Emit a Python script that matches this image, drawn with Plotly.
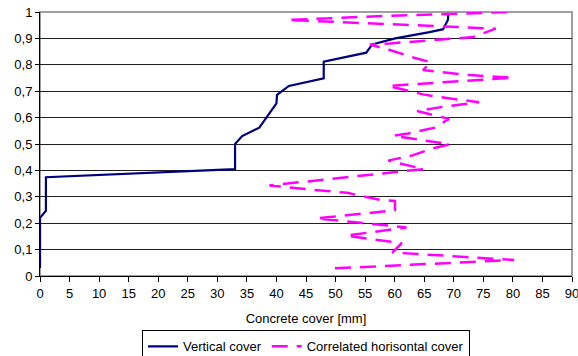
import plotly.graph_objects as go

# Vertical cover: cumulative fraction vs concrete cover
vertical_mm = [0, 0, 1, 1, 33, 33, 34.2, 37.1, 40, 40.1, 42.1, 48, 48,
               55.2, 56.2, 60.1, 65.9, 68.2, 69, 69.1]
vertical_frac = [0.03, 0.22, 0.247, 0.374, 0.405, 0.5, 0.53, 0.562, 0.654,
                 0.686, 0.72, 0.749, 0.812, 0.846, 0.877, 0.9, 0.924, 0.935,
                 0.97, 0.997]

# Correlated horisontal cover
horis_mm = [49.9, 80.2, 59.6, 61.2, 51.8, 62.0, 46.8, 60.05, 60.05, 57.5,
            55.0, 52.0, 46.0, 38.8, 64.9, 58.9, 63.0, 66.5, 69.3, 59.8,
            62.3, 66.8, 69.2, 63.8, 68.2, 70.7, 74.3, 67.2, 64.8, 58.9,
            80.0, 72.7, 68.8, 64.8, 66.1, 63.4, 59.2, 55.8, 59.2, 73.3,
            77.1, 59.5, 41.9, 58.6, 79.5]
horis_frac = [0.029, 0.061, 0.089, 0.124, 0.153, 0.184, 0.218, 0.249, 0.284,
              0.289, 0.300, 0.315, 0.327, 0.343, 0.405, 0.437, 0.457, 0.484,
              0.499, 0.531, 0.540, 0.562, 0.595, 0.625, 0.641, 0.648, 0.658,
              0.679, 0.688, 0.720, 0.751, 0.761, 0.770, 0.780, 0.810, 0.826,
              0.856, 0.877, 0.881, 0.905, 0.937, 0.954, 0.970, 0.985, 1.0]

y_ticks = [0, 0.1, 0.2, 0.3, 0.4, 0.5, 0.6, 0.7, 0.8, 0.9, 1]
y_labels = ["0", "0,1", "0,2", "0,3", "0,4", "0,5", "0,6", "0,7", "0,8", "0,9", "1"]
x_ticks = list(range(0, 91, 5))

FONT = "Liberation Sans, Arial, sans-serif"
FS = 13

fig = go.Figure()
fig.add_trace(go.Scatter(
    x=vertical_mm, y=vertical_frac, mode="lines", name="Vertical cover",
    line=dict(color="#000080", width=2.2),
))
fig.add_trace(go.Scatter(
    x=horis_mm, y=horis_frac, mode="lines", name="Correlated horisontal cover",
    line=dict(color="#FF00FF", width=2.5, dash="16px,9px"),
))

# grey plot-area frame
fig.add_shape(type="rect", xref="paper", yref="paper", x0=0, x1=1, y0=0, y1=1,
              line=dict(color="#808080", width=1.5), layer="below")

fig.update_layout(
    width=578, height=356,
    margin=dict(l=40, r=6, t=12, b=80, autoexpand=False),
    paper_bgcolor="white", plot_bgcolor="white",
    font=dict(family=FONT, size=FS, color="black"),
    showlegend=True,
    legend=dict(
        orientation="h", x=0.5, xanchor="center", y=-0.206, yanchor="top",
        bordercolor="black", borderwidth=1, bgcolor="white",
        font=dict(family=FONT, size=FS, color="black"),
        itemwidth=30, tracegroupgap=0,
    ),
    xaxis=dict(
        range=[0, 90], tickmode="array", tickvals=x_ticks,
        ticks="outside", ticklen=5, tickcolor="black",
        ticklabeloverflow="allow",
        showline=True, linecolor="black", linewidth=1,
        showgrid=False, zeroline=False, automargin=False,
        title=dict(text="Concrete cover [mm]", standoff=14,
                   font=dict(family=FONT, size=FS, color="black")),
    ),
    yaxis=dict(
        range=[0, 1], tickmode="array", tickvals=y_ticks, ticktext=y_labels,
        ticks="outside", ticklen=4, tickcolor="black",
        showline=True, linecolor="black", linewidth=1, automargin=False,
        showgrid=True, gridcolor="#202020", gridwidth=1, zeroline=False,
    ),
)

fig.write_html("out.html")
